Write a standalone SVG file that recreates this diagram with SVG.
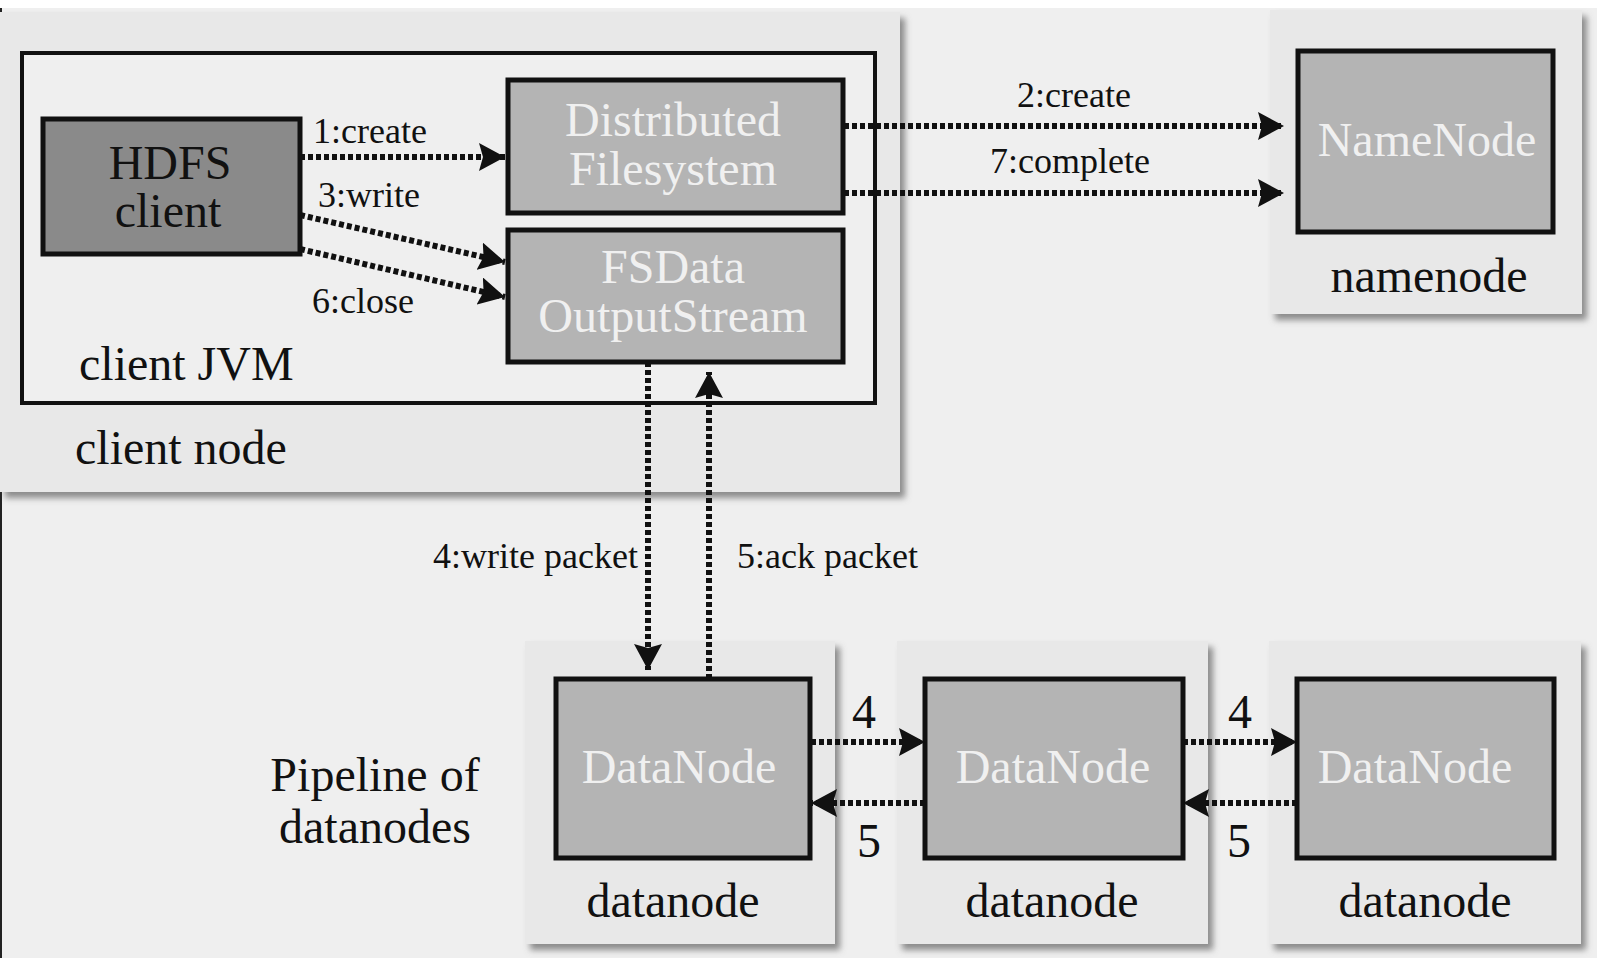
<svg xmlns="http://www.w3.org/2000/svg" width="1600" height="966" viewBox="0 0 1600 966">
<style>
  .panel { fill: #e8e8e8; filter: url(#shadow); }
  .jvm { fill: #efefef; stroke: #111; stroke-width: 4; }
  .box { fill: #b4b4b4; stroke: #111; stroke-width: 5; }
  .dark { fill: #8a8a8a; stroke: #111; stroke-width: 5; }
  .t { font-family: "Liberation Serif", "Times New Roman", serif; fill: #111; }
  .big { font-size: 48px; }
  .small { font-size: 36px; }
  .white { fill: #f0f0f0; }
  .c { text-anchor: middle; }
  .conn { stroke: #111; stroke-width: 6; stroke-dasharray: 5 3; fill: none; marker-end: url(#arr); }
</style>
<defs>
  <filter id="shadow" x="-5%" y="-5%" width="115%" height="115%">
    <feDropShadow dx="5" dy="6" stdDeviation="3" flood-color="#6a6a6a" flood-opacity="0.75"/>
  </filter>
  <marker id="arr" viewBox="0 0 26 28" refX="26" refY="14" markerWidth="26" markerHeight="28" markerUnits="userSpaceOnUse" orient="auto">
    <path d="M0,0 L26,14 L0,28 L4,14 z" fill="#111"/>
  </marker>
</defs>
<rect x="0" y="0" width="1600" height="966" fill="#ffffff"/>
<rect x="0" y="8" width="1597" height="950" fill="#efefef"/>
<rect x="0" y="8" width="2" height="950" fill="#222"/>

<g id="client-node">
  <rect class="panel" x="0" y="12" width="900" height="480"/>
  <text class="t big" x="75" y="464">client node</text>
</g>
<g id="client-jvm">
  <rect class="jvm" x="22" y="53" width="853" height="350"/>
  <text class="t big" x="79" y="380">client JVM</text>
</g>
<g id="hdfs-client">
  <rect class="dark" x="43" y="119" width="257" height="135"/>
  <text class="t big c" x="170" y="179">HDFS</text>
  <text class="t big c" x="168" y="227">client</text>
</g>
<g id="distributed-filesystem">
  <rect class="box" x="508" y="80" width="335" height="133"/>
  <text class="t big c white" x="673" y="136">Distributed</text>
  <text class="t big c white" x="673" y="185">Filesystem</text>
</g>
<g id="fsdata-outputstream">
  <rect class="box" x="508" y="230" width="335" height="132"/>
  <text class="t big c white" x="673" y="283">FSData</text>
  <text class="t big c white" x="673" y="332">OutputStream</text>
</g>
<g id="namenode-panel">
  <rect class="panel" x="1270" y="10" width="312" height="304"/>
  <text class="t big c" x="1429" y="292">namenode</text>
</g>
<g id="namenode">
  <rect class="box" x="1298" y="51" width="255" height="181"/>
  <text class="t big c white" x="1427" y="156">NameNode</text>
</g>
<g id="pipeline-label">
  <text class="t big c" x="375" y="791">Pipeline of</text>
  <text class="t big c" x="375" y="843">datanodes</text>
</g>
<g id="datanode-1">
  <rect class="panel" x="525" y="641" width="310" height="303"/>
  <rect class="box" x="556" y="679" width="254" height="179"/>
  <text class="t big c white" x="679" y="783">DataNode</text>
  <text class="t big c" x="673" y="917">datanode</text>
</g>
<g id="datanode-2">
  <rect class="panel" x="897" y="641" width="311" height="303"/>
  <rect class="box" x="925" y="679" width="258" height="179"/>
  <text class="t big c white" x="1053" y="783">DataNode</text>
  <text class="t big c" x="1052" y="917">datanode</text>
</g>
<g id="datanode-3">
  <rect class="panel" x="1269" y="641" width="312" height="303"/>
  <rect class="box" x="1297" y="679" width="257" height="179"/>
  <text class="t big c white" x="1415" y="783">DataNode</text>
  <text class="t big c" x="1425" y="917">datanode</text>
</g>

<g id="connectors">
  <line class="conn" x1="300" y1="157" x2="505" y2="157"/>
  <line class="conn" x1="300" y1="215" x2="505" y2="262"/>
  <line class="conn" x1="300" y1="249" x2="505" y2="297"/>
  <line class="conn" x1="844" y1="126" x2="1284" y2="126"/>
  <line class="conn" x1="844" y1="193" x2="1284" y2="193"/>
  <line class="conn" x1="648" y1="362" x2="648" y2="670"/>
  <line class="conn" x1="709" y1="679" x2="709" y2="372"/>
  <line class="conn" x1="811" y1="742" x2="925" y2="742"/>
  <line class="conn" x1="1183" y1="742" x2="1297" y2="742"/>
  <line class="conn" x1="925" y1="803" x2="811" y2="803"/>
  <line class="conn" x1="1297" y1="803" x2="1183" y2="803"/>
  <text class="t small" x="313" y="143">1:create</text>
  <text class="t small" x="318" y="207">3:write</text>
  <text class="t small" x="312" y="313">6:close</text>
  <text class="t small c" x="1074" y="107">2:create</text>
  <text class="t small c" x="1070" y="173">7:complete</text>
  <text class="t small" x="638" y="568" text-anchor="end">4:write packet</text>
  <text class="t small" x="737" y="568">5:ack packet</text>
  <text class="t big c" x="864" y="728">4</text>
  <text class="t big c" x="1240" y="728">4</text>
  <text class="t big c" x="869" y="857">5</text>
  <text class="t big c" x="1239" y="857">5</text>
</g>
</svg>
